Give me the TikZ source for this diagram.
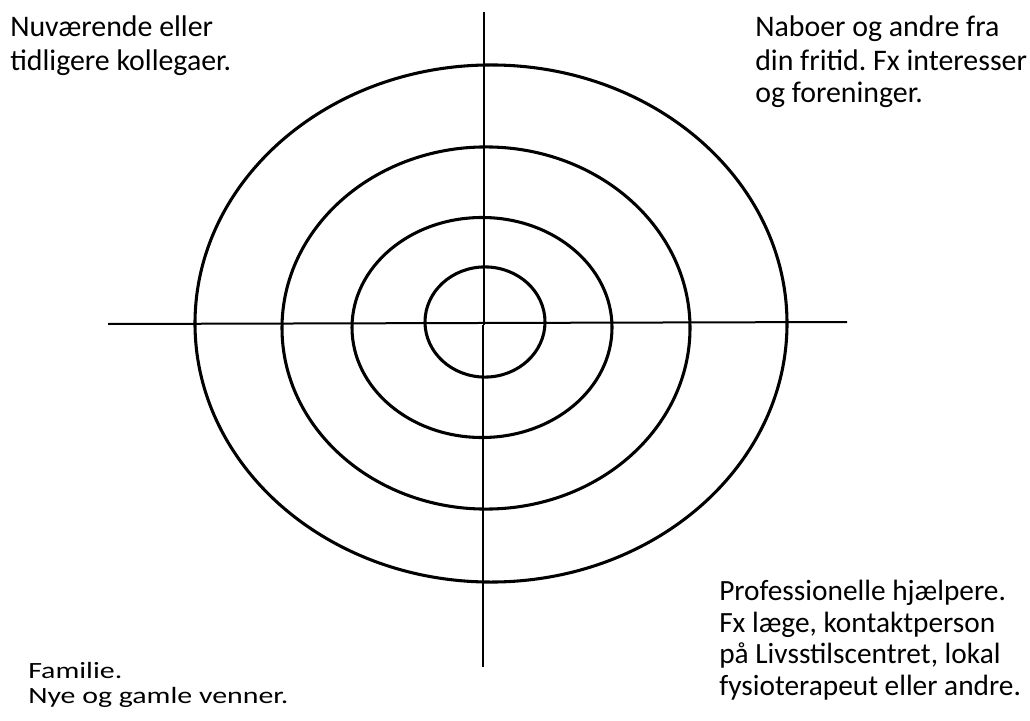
\documentclass[tikz,border=0pt]{standalone}
\usepackage{fontspec}
\usepackage{graphicx}
\setmainfont{Carlito}
\frenchspacing
\begin{document}
\begin{tikzpicture}[x=0.75pt,y=-0.75pt,
  ring/.style={line width=2.3pt},
  axis/.style={line width=1.5pt},
  lbl/.style={anchor=base west,inner sep=0pt,font=\fontsize{22.4pt}{27pt}\selectfont},
  lblb/.style={anchor=base west,inner sep=0pt,font=\fontsize{22pt}{27pt}\selectfont}]
\useasboundingbox (0,0) rectangle (1030,720);
% axes
\coordinate (vt) at (484,12);
\coordinate (vm) at (484,325);
\coordinate (vm2) at (483,325);
\coordinate (vb) at (483,667);
\coordinate (hl) at (108,324);
\coordinate (hr) at (847,322);
\draw[axis] (vt) -- (vm);
\draw[axis] (vm2) -- (vb);
\draw[axis] (hl) -- (hr);
% rings
\draw[ring] (491,323.5) ellipse [x radius=222pt, y radius=193.9pt];
\draw[ring] (486,328) ellipse [x radius=153pt, y radius=135.8pt];
\draw[ring] (482,327.5) ellipse [x radius=97.5pt, y radius=82.5pt];
\draw[ring] (485,322) ellipse [x radius=45pt, y radius=41.3pt];
% labels
\node[lbl] (tl1) at (10,37) {Nuværende eller};
\node[lbl] (tl2) at (10,71) {tidligere kollegaer.};
\node[lbl] (tr1) at (755,37) {Naboer og andre fra};
\node[lbl] (tr2) at (755,71) {din fritid. Fx interesser};
\node[lbl] (tr3) at (755,103) {og foreninger.};
\node[lbl] (bl1) at (28,678) {\scalebox{1}[0.78]{Familie.}};
\node[lbl] (bl2) at (28,703) {\scalebox{1}[0.78]{Nye og gamle venner.}};
\node[lblb] (br1) at (719,600) {Professionelle hjælpere.};
\node[lblb] (br2) at (719,632) {Fx læge, kontaktperson};
\node[lblb] (br3) at (719,663) {på Livsstilscentret, lokal};
\node[lblb] (br4) at (719,695) {fysioterapeut eller andre.};
\end{tikzpicture}
\end{document}
